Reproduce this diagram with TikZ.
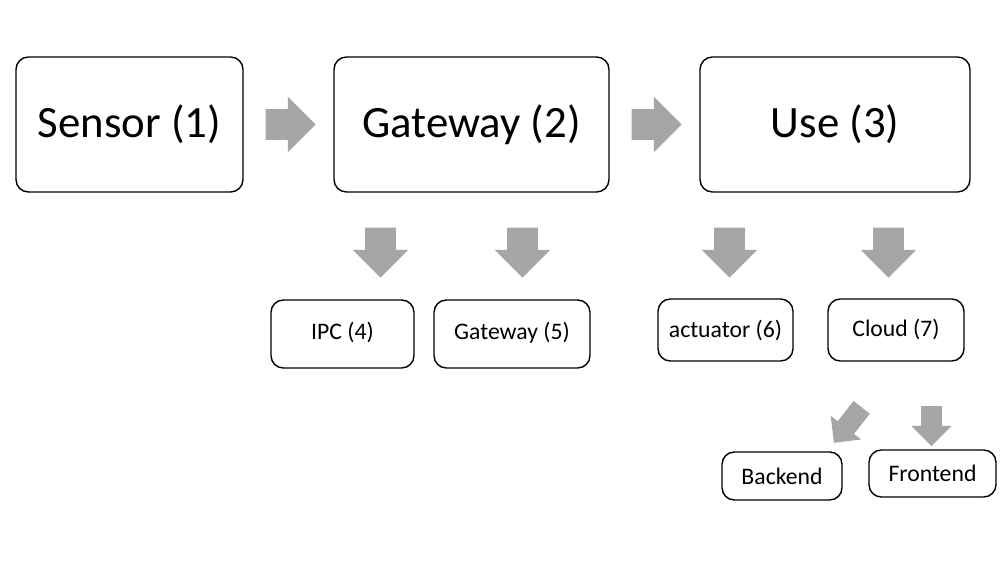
\documentclass[tikz,border=0pt]{standalone}
\usepackage{fontspec}
\setmainfont{Carlito}
\usetikzlibrary{shapes.arrows}
\usetikzlibrary{positioning}

\begin{document}
\begin{tikzpicture}[x=0.02cm,y=-0.02cm,
        box/.style={draw,rounded corners=7pt,line width=0.8pt,align=center},
        big/.style={box,minimum height=2.7cm,font=\fontsize{25.5}{30}\selectfont},
        small/.style={box,font=\fontsize{13.5}{15}\selectfont},
        blk/.style={single arrow,fill=black!35,draw=none,inner sep=0.3cm,
                    single arrow head extend=0.25cm,minimum height=1cm},
  ]
    \useasboundingbox (0,0) rectangle (1008,563);

    \node[big,minimum width=4.54cm] (sensor) at (129.5,124.5) {Sensor (1)};
    \node[big,minimum width=5.5cm] (gateway) at (471.5,124.5) {Gateway (2)};
    \node[big,minimum width=5.4cm] (use) at (835,124.5) {Use (3)};

    \node[small,minimum width=2.86cm,minimum height=1.36cm] (ipc) at (342.5,334) {\raisebox{3.5pt}{IPC (4)}};
    \node[small,minimum width=3.12cm,minimum height=1.36cm] (gw) at (512,334) {\raisebox{3.5pt}{Gateway (5)}};
    \node[small,minimum width=2.7cm,minimum height=1.24cm] (act) at (725.5,330) {actuator (6)};
    \node[small,minimum width=2.72cm,minimum height=1.24cm] (cloud) at (896,330) {\raisebox{2pt}{Cloud (7)}};
    \node[small,minimum width=2.4cm,minimum height=0.96cm] (back) at (782,476) {Backend};
    \node[small,minimum width=2.54cm,minimum height=0.94cm] (front) at (932.5,473.5) {Frontend};

    % block arrows
    \node[blk] (r1) at (283,124.5) {};
    \node[blk] (r2) at (649,124.5) {};
    \node[blk,rotate=-90] (d1) at (380.5,245) {};
    \node[blk,rotate=-90] (d2) at (522.5,245) {};
    \node[blk,rotate=-90] (d3) at (729.5,245) {};
    \node[blk,rotate=-90] (d4) at (888.5,245) {};
    \node[blk,rotate=-128,inner sep=0.2cm,single arrow head extend=0.18cm,
          minimum height=0.9cm] (d5) at (851,421) {};
    \node[blk,rotate=-90,inner sep=0.2cm,single arrow head extend=0.2cm,
          minimum height=0.8cm] (d6) at (931.5,421) {};
\end{tikzpicture}
\end{document}
